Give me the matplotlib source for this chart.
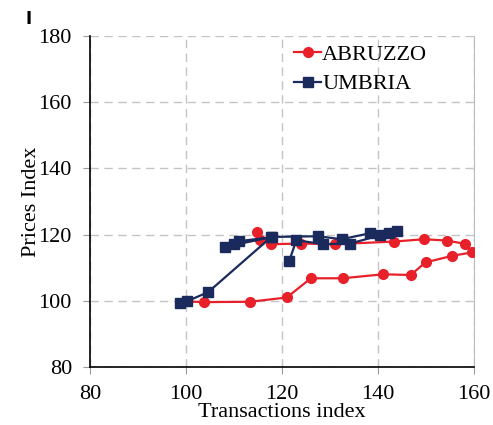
import matplotlib
matplotlib.use("Agg")
import matplotlib.pyplot as plt

# ABRUZZO (red, circles)
abruzzo_x = [114.7, 115.5, 117.8, 124.0, 131.0, 143.4, 149.6, 154.3, 158.2, 159.5,
             155.5, 149.9, 146.8, 141.0, 132.6, 126.0, 121.0, 113.3, 103.7, 100.2]
abruzzo_y = [120.8, 118.3, 117.1, 117.3, 117.1, 117.9, 118.6, 118.2, 117.2, 114.6,
             113.6, 111.6, 107.8, 108.0, 106.8, 106.8, 101.0, 99.7, 99.6, 99.8]

# UMBRIA (navy, squares)
umbria_x = [98.8, 100.1, 104.6, 117.7, 111.0, 109.9, 108.1, 118.0, 127.5, 132.4,
            138.3, 140.4, 142.2, 144.0, 134.2, 128.6, 123.0, 121.5]
umbria_y = [99.3, 99.8, 102.6, 119.2, 118.0, 117.3, 116.3, 119.3, 119.5, 118.6,
            120.4, 120.0, 120.6, 121.2, 117.3, 117.1, 118.3, 112.1]

plt.rcParams['font.family'] = ['Liberation Serif', 'DejaVu Serif']

fig = plt.figure(figsize=(4.93, 4.25), dpi=100)
ax = fig.add_axes([0.1826, 0.1365, 0.7789, 0.7788])

ax.plot(abruzzo_x, abruzzo_y, color='#e8202a', marker='o', markersize=7,
        linewidth=1.6, label='ABRUZZO', zorder=3)
ax.plot(umbria_x, umbria_y, color='#1b2a5c', marker='s', markersize=7.5,
        linewidth=1.6, label='UMBRIA', zorder=4)

ax.set_xlim(80, 160)
ax.set_ylim(80, 180)
ax.set_xticks([80, 100, 120, 140, 160])
ax.set_yticks([80, 100, 120, 140, 160, 180])
ax.grid(True, color='#c4c4c4', linestyle=(0, (6, 4)), linewidth=1)
ax.set_axisbelow(True)

ax.spines['top'].set_visible(False)
ax.spines['right'].set_color('#bbbbbb')
ax.spines['left'].set_linewidth(1.2)
ax.spines['bottom'].set_linewidth(1.2)
ax.tick_params(direction='out', length=5, color='#999999', labelsize=16)
ax.tick_params(axis='y', pad=8)
ax.tick_params(axis='x', pad=8)

ax.set_xlabel('Transactions index', fontsize=16, labelpad=-1)
ax.set_ylabel('Prices Index', fontsize=16, labelpad=-1.5)

ax.legend(loc='upper right', bbox_to_anchor=(0.93, 1.035), frameon=False,
          fontsize=16, handlelength=1.2, handletextpad=0.05, labelspacing=0.4)

fig.text(0.052, 0.955, 'I', fontsize=12, fontweight='bold', family='DejaVu Sans',
         ha='left', va='center')

fig.savefig('out.png', dpi=100)
